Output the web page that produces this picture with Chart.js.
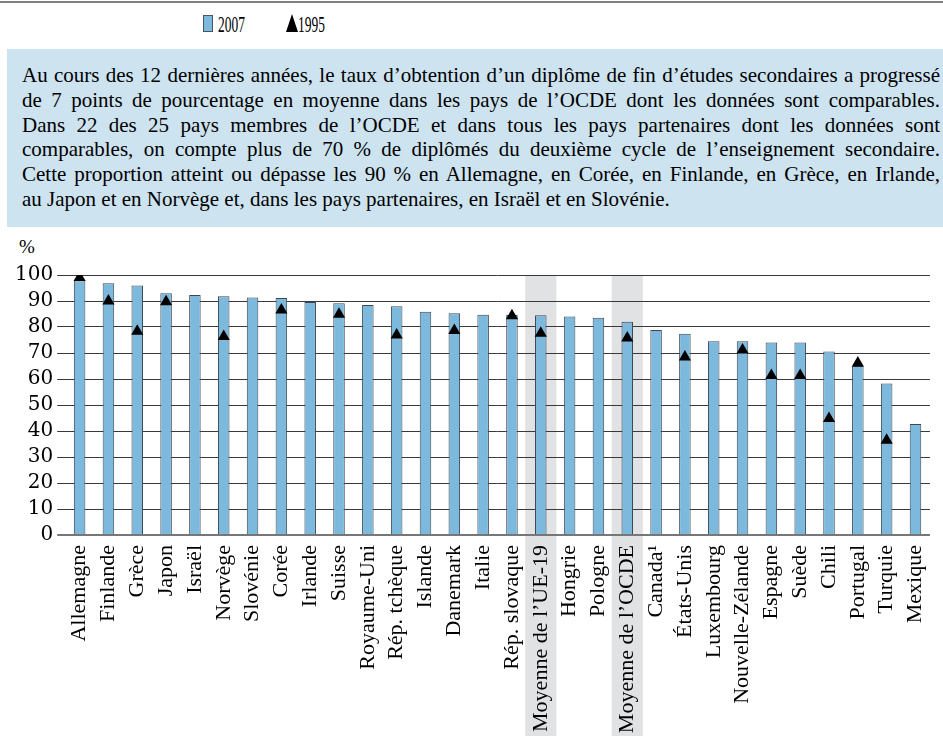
<!DOCTYPE html>
<html lang="fr">
<head>
<meta charset="utf-8">
<title>Taux d'obtention d'un diplôme de fin d'études secondaires</title>
<script src="https://cdn.jsdelivr.net/npm/chart.js@4/dist/chart.umd.min.js"></script>
<style>
  html, body { margin: 0; padding: 0; background: #fff; }
  body { width: 943px; height: 736px; overflow: hidden; position: relative; font-family: "Liberation Serif", serif; color: #000; }
  .rule { position: absolute; left: 0; top: 1px; width: 943px; height: 2px; background: #808080; }
  .lg-box { position: absolute; left: 203px; top: 15px; width: 8px; height: 15px; background: #7db9dd; border: 1px solid #4a5560; }
  .lg-tri { position: absolute; left: 286px; top: 14px; width: 0; height: 0; border-left: 6px solid transparent; border-right: 6px solid transparent; border-bottom: 18px solid #000; }
  .lg-txt { position: absolute; top: 11px; font-size: 24px; line-height: 26px; transform: scaleX(0.56); transform-origin: 0 0; }
  .note { position: absolute; left: 7px; top: 49px; width: 936px; height: 178px; background: #cde3f0; box-sizing: border-box; padding: 14px 3px 0 15px; font-size: 21px; line-height: 24.8px; }
  .note div { white-space: nowrap; text-align: justify; text-align-last: justify; }
  .note div.last { text-align-last: left; }
  .pct { position: absolute; left: 19px; top: 237px; font-size: 19px; line-height: 19px; }
  #wrap { position: absolute; left: 0; top: 230px; width: 952px; height: 506px; }
</style>
</head>
<body>
<div class="rule"></div>
<div class="lg-box"></div><div class="lg-txt" style="left:218px">2007</div>
<div class="lg-tri"></div><div class="lg-txt" style="left:298px">1995</div>
<div class="note">
  <div>Au cours des 12 dernières années, le taux d’obtention d’un diplôme de fin d’études secondaires a progressé</div>
  <div>de 7 points de pourcentage en moyenne dans les pays de l’OCDE dont les données sont comparables.</div>
  <div>Dans 22 des 25 pays membres de l’OCDE et dans tous les pays partenaires dont les données sont</div>
  <div>comparables, on compte plus de 70 % de diplômés du deuxième cycle de l’enseignement secondaire.</div>
  <div>Cette proportion atteint ou dépasse les 90 % en Allemagne, en Corée, en Finlande, en Grèce, en Irlande,</div>
  <div class="last">au Japon et en Norvège et, dans les pays partenaires, en Israël et en Slovénie.</div>
</div>
<div class="pct">%</div>
<div id="wrap"><canvas id="chart"></canvas></div>

<script>
const categories = [
  "Allemagne", "Finlande", "Grèce", "Japon", "Israël", "Norvège", "Slovénie", "Corée",
  "Irlande", "Suisse", "Royaume-Uni", "Rép. tchèque", "Islande", "Danemark", "Italie",
  "Rép. slovaque", "Moyenne de l’UE-19", "Hongrie", "Pologne", "Moyenne de l’OCDE",
  "Canada¹", "États-Unis", "Luxembourg", "Nouvelle-Zélande", "Espagne", "Suède",
  "Chili", "Portugal", "Turquie", "Mexique",
];
const rate2007 = [
  98, 96.8, 96, 93, 92.3, 91.8, 91.3, 91.2,
  89.6, 89.1, 88.5, 88, 85.9, 85.3, 84.7,
  84.6, 84.5, 84, 83.6, 82,
  78.8, 77.4, 74.5, 74.5, 74, 74,
  70.6, 65, 58.3, 42.7,
];
const rate1995 = [
  99, 90, 78.4, 89.7, null, 76.3, null, 86.5,
  null, 84.9, null, 76.9, null, 78.7, null,
  84.3, 77.6, null, null, 75.8,
  null, 68.5, null, 71.2, 61.3, 61.3,
  44.8, 66.2, 36.4, null,
];
const shadedCategories = ["Moyenne de l’UE-19", "Moyenne de l’OCDE"];

const SERIF = "'Liberation Serif', serif";

// bandes grises derrière les moyennes (dessinées avant la grille)
const bandPlugin = {
  id: "bands",
  beforeDraw(chart) {
    const { ctx, chartArea, scales } = chart;
    const x = scales.x;
    const step = x.getPixelForValue(1) - x.getPixelForValue(0);
    ctx.save();
    ctx.fillStyle = "#e1e2e4";
    shadedCategories.forEach((name) => {
      const cx = x.getPixelForValue(categories.indexOf(name));
      ctx.fillRect(cx - step * 0.54, chartArea.top, step * 1.08, chart.height - chartArea.top);
    });
    ctx.restore();
  },
};

new Chart(document.getElementById("chart"), {
  data: {
    labels: categories,
    datasets: [
      {
        type: "line",
        label: "1995",
        data: rate1995,
        showLine: false,
        pointStyle: "triangle",
        pointRadius: 7,
        pointHoverRadius: 7,
        pointBackgroundColor: "#000",
        pointBorderColor: "#000",
        pointBorderWidth: 0,
        order: 0,
      },
      {
        type: "bar",
        label: "2007",
        data: rate2007,
        backgroundColor: "#7db9dd",
        borderColor: "#3d4852",
        borderWidth: 1,
        barPercentage: 0.4,
        categoryPercentage: 1,
        order: 1,
      },
    ],
  },
  options: {
    responsive: true,
    maintainAspectRatio: false,
    animation: false,
    layout: { padding: { top: 45, left: 0, right: 0, bottom: 0 } },
    plugins: { legend: { display: false }, tooltip: { enabled: false } },
    scales: {
      x: {
        type: "category",
        offset: true,
        grid: { display: false, drawTicks: false },
        border: { display: false },
        ticks: {
          autoSkip: false, minRotation: 90, maxRotation: 90, padding: 10,
          color: "#000", font: { family: SERIF, size: 22 },
        },
        afterFit: (s) => { s.height = 201; },
      },
      y: {
        min: 0,
        max: 100,
        border: { display: false },
        grid: {
          color: (c) => (c.tick && c.tick.value === 0 ? "#777" : "#3a3a3a"),
          lineWidth: (c) => (c.tick && c.tick.value === 0 ? 2 : 1),
          drawTicks: true,
          tickLength: 8,
        },
        ticks: {
          stepSize: 10, autoSkip: false, padding: 4, color: "#000",
          font: { family: "'DejaVu Serif', serif", size: 20 },
        },
        afterFit: (s) => { s.width = 65.2; },
      },
    },
  },
  plugins: [bandPlugin],
});
</script>
</body>
</html>
